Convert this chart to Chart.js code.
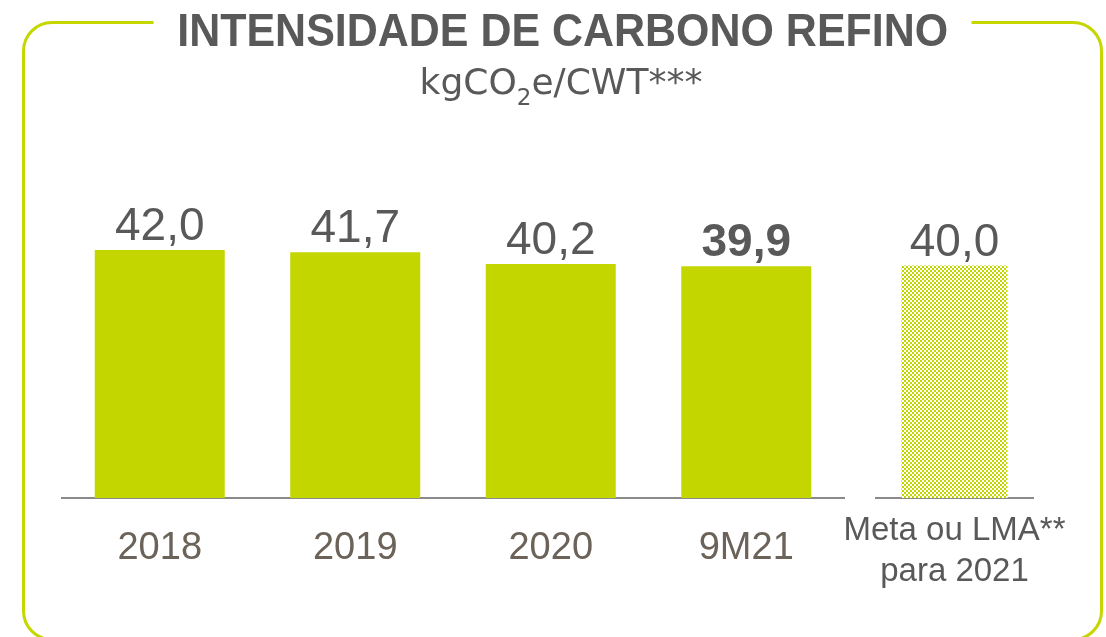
<!DOCTYPE html>
<html>
<head>
<meta charset="utf-8">
<script src="https://cdn.jsdelivr.net/npm/chart.js@4/dist/chart.umd.min.js"></script>
<style>
  html, body { margin: 0; padding: 0; background: #ffffff; }
  #stage { position: relative; width: 1106px; height: 637px; overflow: hidden; background: #fff; }
  #frame { position: absolute; left: 22px; top: 21px; width: 1081px; height: 620px; box-sizing: border-box;
           border: 3px solid #c5d600; border-radius: 30px; }
  canvas { position: absolute; left: 0; top: 0; }
  #title { position: absolute; left: 10px; top: 6px; width: 1106px; text-align: center; line-height: 47px; z-index: 3; }
  #title span { display: inline-block; background: #fff; padding: 0 26px; font-family: "Liberation Sans", Arial, sans-serif;
                font-weight: bold; font-size: 47px; color: #595959; transform: scaleX(0.914); transform-origin: center; white-space: nowrap; }
  #subtitle { position: absolute; left: 8px; top: 64px; width: 1106px; text-align: center; line-height: 36px;
              font-family: "DejaVu Sans", sans-serif; font-size: 36px; color: #595959; z-index: 3; white-space: nowrap; }
  #subtitle sub { font-size: 23px; line-height: 0; vertical-align: -11px; }
</style>
</head>
<body>
<div id="stage">
  <div id="frame"></div>
  <canvas id="c1" width="1106" height="637"></canvas>
  <canvas id="c2" width="1106" height="637"></canvas>
  <div id="title"><span>INTENSIDADE DE CARBONO REFINO</span></div>
  <div id="subtitle">kgCO<sub>2</sub>e/CWT***</div>
</div>
<script>
// ---- data ----
const periodLabels = ['2018', '2019', '2020', '9M21'];
const periodValues = [42.0, 41.7, 40.2, 39.9];
const targetLabels = [['Meta ou LMA**', 'para 2021']];
const targetValues = [40.0];
const boldIndex = [3];          // 9M21 value shown in bold
const yMin = 10, yMax = 50;

// ---- styles ----
const GREEN = '#c4d600';
const TEXT = '#595959';
const AXIS_TEXT = '#6b6259';

function checkerPattern() {
  const p = document.createElement('canvas');
  p.width = 4; p.height = 4;
  const g = p.getContext('2d');
  g.fillStyle = '#ffffff'; g.fillRect(0, 0, 4, 4);
  g.fillStyle = GREEN;
  g.fillRect(0, 0, 2, 2);
  g.fillRect(2, 2, 2, 2);
  return document.getElementById('c2').getContext('2d').createPattern(p, 'repeat');
}

const valueLabels = {
  id: 'valueLabels',
  afterDatasetsDraw(chart, args, opts) {
    const ctx = chart.ctx;
    const meta = chart.getDatasetMeta(0);
    const data = chart.data.datasets[0].data;
    ctx.save();
    ctx.textAlign = 'center';
    ctx.textBaseline = 'alphabetic';
    ctx.fillStyle = TEXT;
    meta.data.forEach((bar, i) => {
      const bold = (opts.bold || []).includes(i);
      ctx.font = (bold ? 'bold ' : '') + '46px "Liberation Sans", Arial, sans-serif';
      ctx.fillText(data[i].toFixed(1).replace('.', ','), bar.x, bar.y - 10);
    });
    ctx.restore();
  }
};

Chart.defaults.font.family = '"Liberation Sans", Arial, sans-serif';

function makeChart(id, labels, values, bg, pad, barPct, tickFont, tickColor, tickPad, lineH, bold) {
  return new Chart(document.getElementById(id), {
    type: 'bar',
    data: {
      labels: labels,
      datasets: [{ data: values, backgroundColor: bg, borderWidth: 0,
                   barPercentage: barPct, categoryPercentage: 1 }]
    },
    options: {
      responsive: false,
      animation: false,
      layout: { padding: pad },
      plugins: { legend: { display: false }, tooltip: { enabled: false }, valueLabels: { bold: bold } },
      scales: {
        y: { display: false, min: yMin, max: yMax },
        x: {
          grid: { display: false, drawTicks: true, tickLength: 8 },
          border: { display: true, color: '#8a8a8a', width: 2 },
          ticks: { font: { size: tickFont, lineHeight: lineH }, color: tickColor, padding: tickPad, maxRotation: 0, autoSkip: false },
          afterFit: (s) => { s.height = 100; }
        }
      }
    },
    plugins: [valueLabels]
  });
}

makeChart('c1', periodLabels, periodValues, GREEN,
  { left: 62, right: 262, top: 188, bottom: 39 }, 0.665, 38, AXIS_TEXT, 20, 1.2, boldIndex);
makeChart('c2', targetLabels, targetValues, checkerPattern(),
  { left: 876, right: 73, top: 188, bottom: 39 }, 0.675, 33, TEXT, 4, 1.25, []);
</script>
</body>
</html>
